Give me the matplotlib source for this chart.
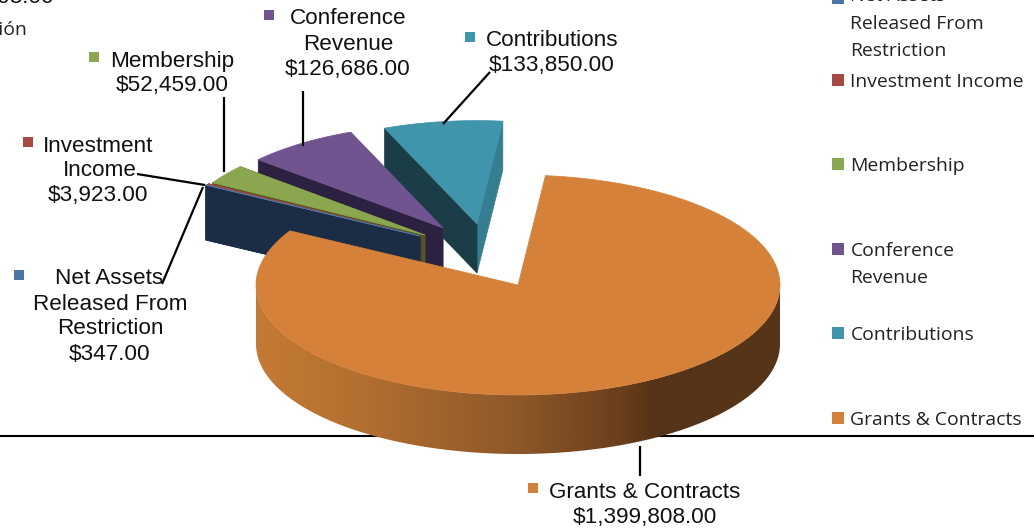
import numpy as np
import matplotlib
matplotlib.use('Agg')
import matplotlib.pyplot as plt
from matplotlib.patches import Polygon
from matplotlib.colors import LinearSegmentedColormap

# datos de la grafica (sentido horario desde Net Assets)
categorias = ['Net Assets Released From Restriction', 'Investment Income', 'Membership',
              'Conference Revenue', 'Contributions', 'Grants & Contracts']
valores = [347, 3923, 52459, 126686, 133850, 1399808]
colores = ['#4a76a8', '#a94744', '#8aa64e', '#70548f', '#3f95ab', '#d5813a']
muro_izq = ['#1a2d45', '#6b2b2a', '#4d5a20', '#2c2140', '#1a3d47', '#d5813a']
muro_der = ['#2f557d', '#80312f', '#4d5a20', '#54406c', '#357d90', '#d5813a']

# geometria en pixeles
W, H = 1034, 529
cx, cy = 518, 285
rx, ry = 262, 110
prof = 59
inicio = 150.5
escala = 0.94
# centro de cada rebanada separada (la ultima no se separa)
desp = [(-98, -49), (-97, -49), (-93, -50), (-75, -57), (-41, -61), (0, 0)]
profs = [55, 55, 50, 50, 49, 59]

fig = plt.figure(figsize=(W / 100, H / 100), dpi=100)
ax = fig.add_axes([0, 0, 1, 1])
ax.axis('off')

ang = np.array(valores) / sum(valores) * 360
fin = inicio - np.cumsum(ang)
ini = fin + ang


def punto(x0, y0, a, rxx, ryy):
    return x0 + rxx * np.cos(np.radians(a)), y0 - ryy * np.sin(np.radians(a))


def rebanada(i):
    x0, y0 = cx + desp[i][0], cy + desp[i][1]
    rxx, ryy = rx * escala, ry * escala
    d = profs[i]
    z = 7 - i
    c1 = punto(x0, y0, ini[i], rxx, ryy)
    c2 = punto(x0, y0, fin[i], rxx, ryy)
    # muro derecho, muro izquierdo y tapa
    ax.fill([x0, c2[0], c2[0], x0], [y0, c2[1], c2[1] + d, y0 + d], color=muro_der[i], lw=0.5, zorder=z)
    ax.fill([x0, c1[0], c1[0], x0], [y0, c1[1], c1[1] + d, y0 + d], color=muro_izq[i], lw=0.5, zorder=z)
    t = np.linspace(ini[i], fin[i], 60)
    px, py = punto(x0, y0, t, rxx, ryy)
    ax.fill(np.r_[x0, px], np.r_[y0, py], color=colores[i], lw=0.5, zorder=z)


# orden: de atras hacia adelante
for i in [4, 3, 2, 1, 0]:
    rebanada(i)

# pared curva de Grants con degradado
cmap = LinearSegmentedColormap.from_list('pared', [(0, '#c47a34'), (0.2, '#b36f30'), (0.5, '#8d5829'),
                                                   (0.7, '#6a3e1c'), (0.76, '#553318'), (1, '#573518')])
t = np.linspace(180, 360, 241)
px, py = punto(cx, cy, t, rx, ry)
contorno = np.c_[np.r_[px, px[::-1]], np.r_[py, py[::-1] + prof]]
pared = Polygon(contorno, transform=ax.transData, facecolor='none', edgecolor='none')
ax.add_patch(pared)
img = ax.imshow(np.linspace(0, 1, 512).reshape(1, -1), cmap=cmap, aspect='auto', zorder=10,
                extent=(cx - rx, cx + rx, cy + ry + prof, cy - 10), vmin=0, vmax=1)
img.set_clip_path(pared)

t = np.linspace(ini[5], fin[5], 300)
px, py = punto(cx, cy, t, rx, ry)
ax.fill(np.r_[cx, px], np.r_[cy, py], color=colores[5], lw=0.5, zorder=11)

# linea horizontal detras del pastel
ax.plot([0, W], [436, 436], color='black', lw=1.5, zorder=1)

# lineas guia
guias = [([224, 224], [97, 172]), ([303, 303], [91, 146]), ([490, 443], [72, 124]),
         ([137, 205], [174, 185]), ([162, 203], [284, 187]), ([640, 640], [446, 476])]
for gx, gy in guias:
    ax.plot(gx, gy, color='black', lw=1.6, zorder=12, solid_capstyle='butt')

# etiquetas de datos
fuente = dict(family='Liberation Sans', fontsize=16.2, color='#111111', ha='center', va='center', zorder=13)
etiquetas = [(['Net Assets', 'Released From', 'Restriction', '$%s' % format(valores[0], ',.2f')], [109, 110, 110, 110], [278, 304, 329, 354], (19, 275)),
             (['Investment', 'Income', '$%s' % format(valores[1], ',.2f')], [98, 100, 98], [146, 171, 196], (28, 142)),
             (['Membership', '$%s' % format(valores[2], ',.2f')], [172, 172], [61, 85], (94, 57)),
             (['Conference', 'Revenue', '$%s' % format(valores[3], ',.2f')], [348, 348, 348], [19, 44, 69], (269, 15)),
             (['Contributions', '$%s' % format(valores[4], ',.2f')], [552, 552], [40, 65], (470, 37)),
             (['Grants & Contracts', '$%s' % format(valores[5], ',.2f')], [645, 645], [492, 517], (533, 488))]
for i, (lineas, xs, ys, cuad) in enumerate(etiquetas):
    for s, x, y in zip(lineas, xs, ys):
        ax.text(x, y, s, **fuente)
    ax.plot(*cuad, marker='s', ms=7.5, color=colores[i], mew=0, zorder=13)

# leyenda a la derecha
ley = dict(family='Open Sans', fontsize=13.95, color='#222222', ha='left', va='center', zorder=13)
leyenda = [(['Net Assets', 'Released From', 'Restriction'], [-4, 24, 51]),
           (['Investment Income'], [82]), (['Membership'], [166]),
           (['Conference', 'Revenue'], [251, 278]), (['Contributions'], [335]),
           (['Grants & Contracts'], [420])]
cuadros_y = [-2, 80, 164, 249, 333, 418]
for i, (lineas, ys) in enumerate(leyenda):
    for s, y in zip(lineas, ys):
        ax.text(850.5, y, s, **ley)
    ax.plot(838, cuadros_y[i], marker='s', ms=9, color=colores[i], mew=0, zorder=13)

# restos cortados de la otra grafica
ax.text(54, -2, '$1,608.00', family='Liberation Sans', fontsize=16.2, color='#111111', ha='right', va='center')
ax.text(27, 30, 'Restricción', family='Open Sans', fontsize=13.95, color='#222222', ha='right', va='center')

ax.set_xlim(0, W)
ax.set_ylim(H, 0)
plt.savefig('out.png', dpi=100)
